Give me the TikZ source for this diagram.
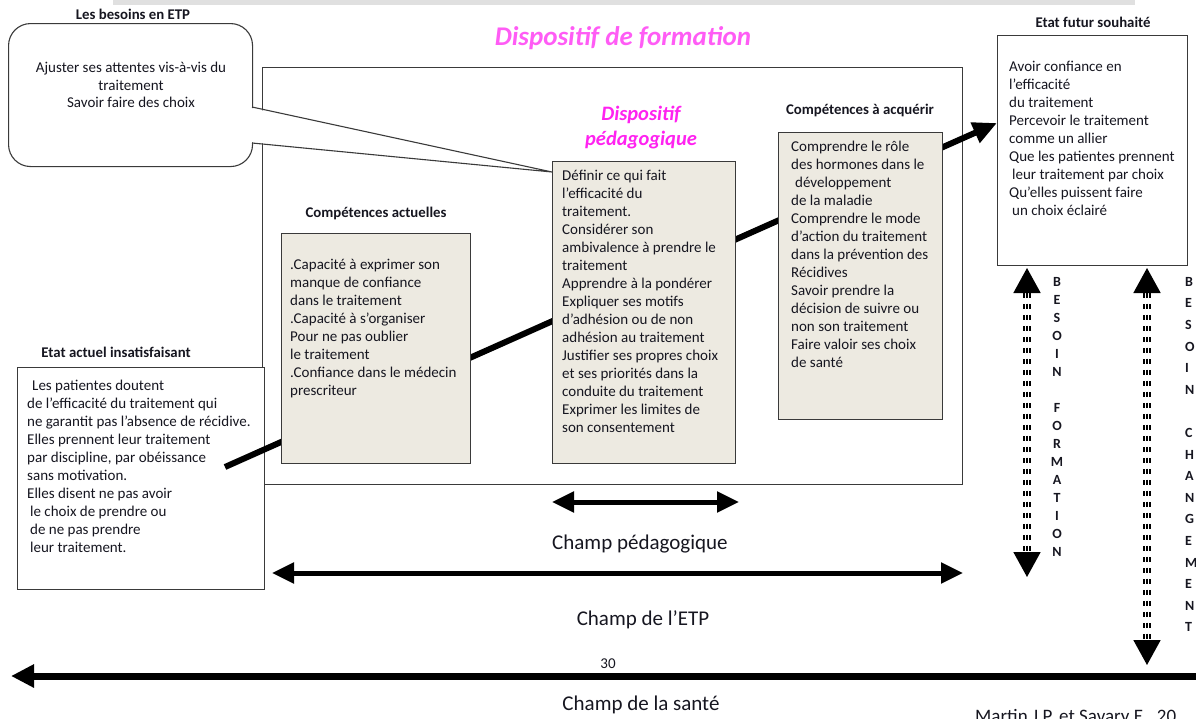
\documentclass[tikz,border=0pt]{standalone}
\usepackage{fontspec}
\setmainfont{Carlito}
\usetikzlibrary{arrows.meta,calc}
\definecolor{boxfill}{HTML}{EDEAE1}
\definecolor{boxline}{HTML}{3A3A3A}
\definecolor{magA}{HTML}{FF5CF5}
\definecolor{magB}{HTML}{FF22F0}
\definecolor{txt}{HTML}{161620}
\begin{document}
\begin{tikzpicture}[x=1pt,y=-1pt,
  body/.style={font=\fontsize{15}{18}\selectfont, align=left, anchor=north west, inner sep=0pt, text=txt},
  lab/.style={font=\bfseries\fontsize{14.8}{16}\selectfont, inner sep=0pt, text=txt},
  compbox/.style={draw=boxline, fill=boxfill, line width=1.1pt, anchor=north west, inner sep=0pt},
  plainbox/.style={draw=boxline, fill=white, line width=1.1pt, anchor=north west, inner sep=0pt},
  champ/.style={font=\fontsize{21}{24}\selectfont, inner sep=0pt, text=txt},
  dbl/.style={line width=5pt, {Triangle[length=22pt,width=20pt]}-{Triangle[length=22pt,width=20pt]}},
  stripe/.style={line width=1.8pt, dash pattern=on 5pt off 6pt},
  vtip/.style={{Triangle[length=25pt,width=27pt]}-{Triangle[length=25pt,width=27pt]}},
  vletters/.style={font=\bfseries\fontsize{14}{18}\selectfont, inner sep=0pt, text=txt},
]
\useasboundingbox (0,0) rectangle (1196,718);
\fill[black!12] (113,0) rectangle (1135,5);

% big frame
\node[draw=boxline, line width=1.1pt, anchor=north west, minimum width=700pt, minimum height=417pt, inner sep=0pt] (frame) at (262,67) {};

% callout
\node[draw=boxline, fill=white, line width=1.1pt, rounded corners=22pt, anchor=north west, minimum width=244pt, minimum height=143pt, inner sep=0pt] (besoin) at (8,23) {};
\coordinate (pa) at (252,107);
\coordinate (pb) at (252,143);
\coordinate (ptip) at (552,172);
\fill[white] ($(pa)+(-1.5,0.8)$) -- (ptip) -- ($(pb)+(-1.5,-0.8)$) -- cycle;
\draw[boxline, line width=1.1pt] (pa) -- (ptip) -- (pb);
\node[lab] (besoinlab) at (133,14) {Les besoins en ETP};
\node[font=\fontsize{15}{17.5}\selectfont, align=center, anchor=north, inner sep=0pt, text=txt] (besointxt) at (131,62) {Ajuster ses attentes vis-à-vis du\\traitement\\Savoir faire des choix};

% titles
\node[font=\bfseries\itshape\fontsize{27}{30}\selectfont, text=magA, inner sep=0pt] (titre) at (623,38) {Dispositif de formation};
\node[font=\bfseries\itshape\fontsize{20.5}{25}\selectfont, text=magB, align=center, inner sep=0pt] (titrepeda) at (641,128) {Dispositif\\pédagogique};

% etat actuel
\node[plainbox, minimum width=247pt, minimum height=222pt] (actuel) at (17,367) {};
\node[lab] (actuellab) at (116,352) {Etat actuel insatisfaisant};
\node[body] (actueltxt) at (27,380) {\hspace*{5pt}Les patientes doutent\\de l’efficacité du traitement qui\\ne garantit pas l’absence de récidive.\\Elles prennent leur traitement\\par discipline, par obéissance\\sans motivation.\\Elles  disent ne pas avoir\\\hspace*{3pt}le choix de prendre ou\\\hspace*{3pt}de ne pas prendre\\\hspace*{3pt}leur traitement.};

% futur
\node[plainbox, minimum width=190pt, minimum height=230pt] (futur) at (997,35) {};
\node[lab] (futurlab) at (1093,22) {Etat futur souhaité};
\node[body] (futurtxt) at (1009,61) {Avoir confiance en\\l’efficacité\\du traitement\\Percevoir le traitement\\comme un allier\\Que les patientes prennent\\\hspace*{3pt}leur traitement par choix\\Qu’elles puissent faire\\\hspace*{3pt}un choix éclairé};

% main thick arrow
\coordinate (ls) at (225,467);
\coordinate (le) at (997,123);
\draw[line width=6pt, -{Triangle[length=24pt,width=21pt]}] (ls) -- (le);

% competence boxes
\node[compbox, minimum width=189pt, minimum height=230pt] (act) at (281,233) {};
\node[lab] (actlab) at (376,213) {Compétences actuelles};
\node[body] (acttxt) at (290,259) {.Capacité à exprimer son\\manque de confiance\\dans le traitement\\.Capacité à s’organiser\\Pour ne pas oublier\\le traitement\\.Confiance dans le médecin\\prescriteur};

\node[compbox, minimum width=183pt, minimum height=302pt] (peda) at (552,161) {};
\node[body] (pedatxt) at (562,170) {Définir ce qui fait\\l’efficacité du\\traitement.\\Considérer  son\\ambivalence à prendre le\\traitement\\Apprendre à la pondérer\\Expliquer ses motifs\\d’adhésion ou de non\\adhésion au traitement\\Justifier ses propres choix\\et ses priorités dans la\\conduite du traitement\\Exprimer les limites de\\son consentement};

\node[compbox, minimum width=164pt, minimum height=287pt] (acq) at (778,132) {};
\node[lab] (acqlab) at (860,110) {Compétences à acquérir};
\node[body] (acqtxt) at (791,141) {Comprendre le rôle\\des hormones  dans le\\\hspace*{4pt}développement\\de la maladie\\Comprendre le  mode\\d’action du traitement\\dans la prévention des\\Récidives\\Savoir prendre la\\décision de suivre ou\\non son traitement\\Faire valoir ses choix\\de santé};

% champ arrows
\coordinate (cp1) at (552,502);
\coordinate (cp2) at (739,502);
\draw[dbl] (cp1) -- (cp2);
\node[champ, anchor=west] (cplab) at (552,544) {Champ pédagogique};

\coordinate (ce1) at (272,573);
\coordinate (ce2) at (963,573);
\draw[dbl] (ce1) -- (ce2);
\node[champ] (celab) at (643,620) {Champ de l’ETP};

\coordinate (cs1) at (11,676);
\coordinate (cs2) at (1200,676);
\draw[line width=7pt, {Triangle[length=23pt,width=22pt]}-] (cs1) -- (cs2);
\node[font=\fontsize{15}{16}\selectfont, inner sep=0pt, text=txt] (trente) at (608,664) {30};
\node[champ] (cslab) at (641,705) {Champ de la santé};
\node[champ, anchor=north west, font=\fontsize{19}{22}\selectfont] (ref) at (975,709) {Martin J.P. et Savary E., 20};

% vertical dashed arrows
\coordinate (v1t) at (1027,268);
\coordinate (v1b) at (1027,577);
\coordinate (v2t) at (1147,268);
\coordinate (v2b) at (1147,665);
\draw[stripe, vtip] (v1t) -- (v1b);
\draw[stripe] ($(v1t)+(-3,25)$) -- ($(v1b)+(-3,-25)$);
\draw[stripe] ($(v1t)+(3,25)$) -- ($(v1b)+(3,-25)$);
\draw[stripe, vtip] (v2t) -- (v2b);
\draw[stripe] ($(v2t)+(-3,25)$) -- ($(v2b)+(-3,-25)$);
\draw[stripe] ($(v2t)+(3,25)$) -- ($(v2b)+(3,-25)$);

\node[vletters, align=center, anchor=north] (bf) at (1057,277) {B\\E\\S\\O\\I\\N\\ \\F\\O\\R\\M\\A\\T\\I\\O\\N};
\node[vletters, font=\bfseries\fontsize{14}{21.6}\selectfont, align=left, anchor=north west] (bc) at (1185,277) {B\\E\\S\\O\\I\\N\\ \\C\\H\\A\\N\\G\\E\\M\\E\\N\\T};
\end{tikzpicture}
\end{document}
